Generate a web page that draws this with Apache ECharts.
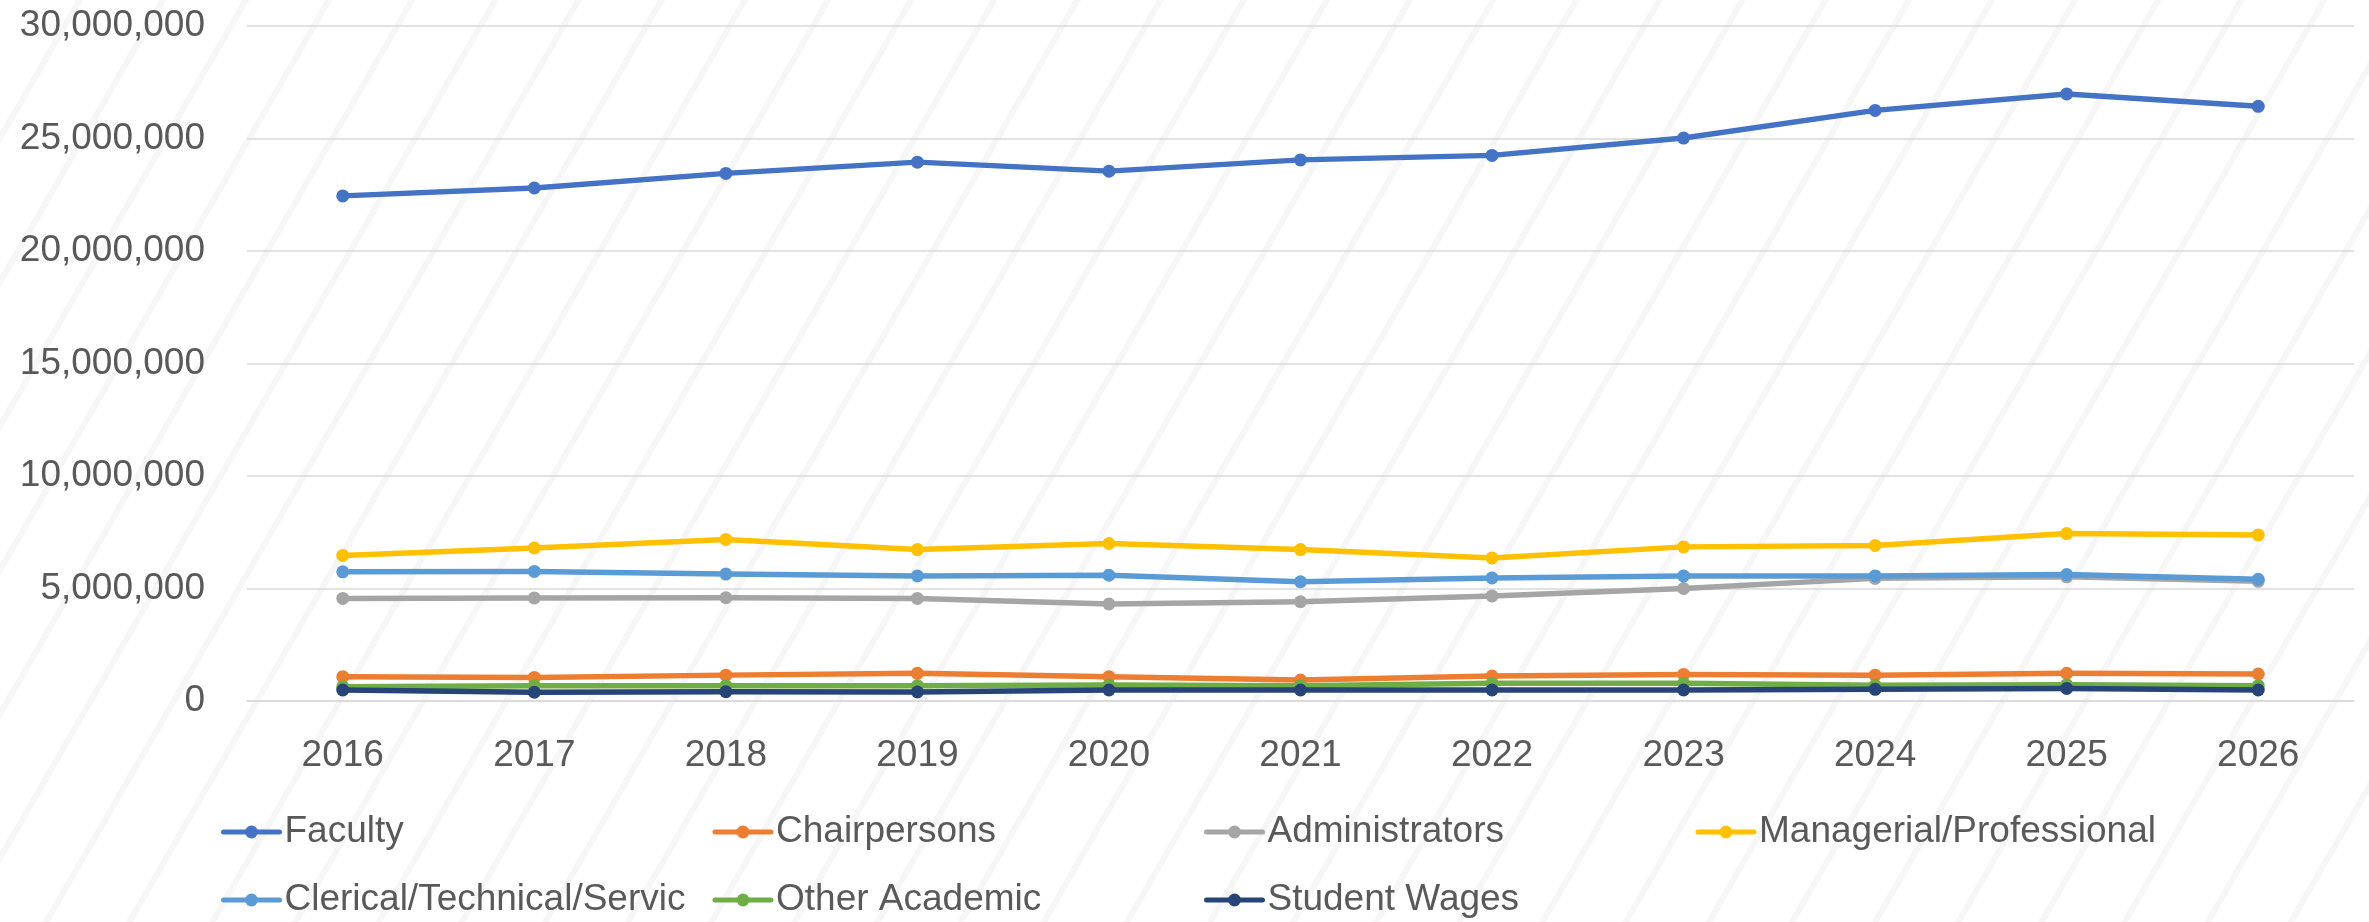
<!DOCTYPE html>
<html>
<head>
<meta charset="utf-8">
<script src="https://cdn.jsdelivr.net/npm/echarts@6/dist/echarts.min.js"></script>
<style>
html,body{margin:0;padding:0;background:#fff;}
#c{width:2369px;height:922px;
  background: repeating-linear-gradient(120deg, rgba(255,255,255,0) 0px, rgba(255,255,255,0) 66px, #f6f6f6 66px, #f6f6f6 72px);}
</style>
</head>
<body>
<div id="c"></div>
<script>
const years = ['2016','2017','2018','2019','2020','2021','2022','2023','2024','2025','2026'];
const yTicks = [0, 5000000, 10000000, 15000000, 20000000, 25000000, 30000000];

const faculty = [22450000, 22800000, 23450000, 23950000, 23550000, 24050000, 24250000, 25020000, 26250000, 26980000, 26430000];
const chairpersons = [1080000, 1050000, 1150000, 1230000, 1080000, 930000, 1110000, 1180000, 1150000, 1230000, 1200000];
const administrators = [4560000, 4580000, 4590000, 4560000, 4310000, 4410000, 4670000, 5000000, 5450000, 5520000, 5320000];
const managerial = [6470000, 6800000, 7180000, 6730000, 7000000, 6730000, 6360000, 6850000, 6910000, 7440000, 7380000];
const clerical = [5740000, 5760000, 5640000, 5560000, 5590000, 5300000, 5470000, 5560000, 5560000, 5620000, 5410000];
const otherAcademic = [630000, 680000, 680000, 680000, 710000, 680000, 790000, 790000, 700000, 720000, 680000];
const studentWages = [490000, 390000, 410000, 400000, 490000, 490000, 490000, 490000, 520000, 560000, 490000];

const seriesNames = ['Faculty','Chairpersons','Administrators','Managerial/Professional','Clerical/Technical/Servic','Other Academic','Student Wages'];
const seriesData = [faculty, chairpersons, administrators, managerial, clerical, otherAcademic, studentWages];
const colors = ['#4472C4','#ED7D31','#A5A5A5','#FFC000','#5B9BD5','#70AD47','#264478'];

const FONT = '"Liberation Sans", Arial, sans-serif';
const chart = echarts.init(document.getElementById('c'));
chart.setOption({
  animation: false,
  backgroundColor: 'transparent',
  color: colors,
  grid: { left: 247, right: 15, top: 26, bottom: 221, containLabel: false },
  legend: {
    left: 216,
    top: 796,
    width: 1960,
    itemWidth: 56,
    itemHeight: 16,
    itemGap: 6,
    lineStyle: { width: 5 },
    textStyle: {
      fontFamily: FONT, fontSize: 37, color: '#595959',
      width: 422, lineHeight: 62, overflow: 'truncate', ellipsis: ''
    },
    data: seriesNames
  },
  xAxis: {
    type: 'category',
    data: years,
    boundaryGap: true,
    axisLine: { show: true, lineStyle: { color: '#d9d9d9', width: 1.5 } },
    axisTick: { show: false },
    axisLabel: { fontFamily: FONT, fontSize: 37, color: '#595959', margin: 36 }
  },
  yAxis: {
    type: 'value',
    min: yTicks[0],
    max: yTicks[yTicks.length - 1],
    interval: yTicks[1] - yTicks[0],
    axisLine: { show: false },
    axisTick: { show: false },
    splitLine: { lineStyle: { color: '#d9d9d9', width: 1.5 } },
    axisLabel: {
      fontFamily: FONT, fontSize: 37, color: '#595959', margin: 42,
      formatter: v => v.toLocaleString('en-US')
    }
  },
  series: seriesNames.map((n, i) => ({
    name: n,
    type: 'line',
    data: seriesData[i],
    symbol: 'circle',
    symbolSize: 13,
    showSymbol: true,
    lineStyle: { width: 5.5, color: colors[i], cap: 'round', join: 'round' },
    itemStyle: { color: colors[i] },
    z: 2 + i
  }))
});
</script>
</body>
</html>
